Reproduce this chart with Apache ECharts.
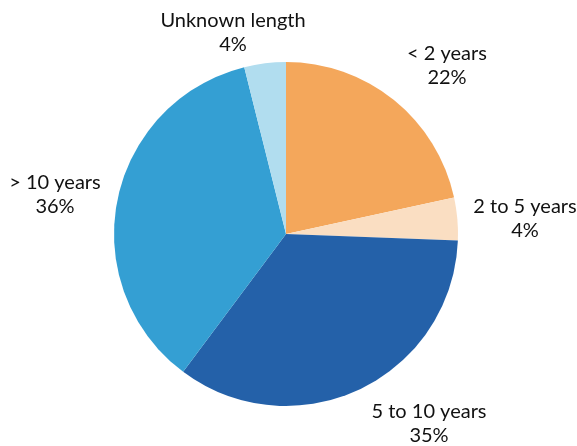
<!DOCTYPE html>
<html>
<head>
<meta charset="utf-8">
<script src="https://cdn.jsdelivr.net/npm/echarts@6/dist/echarts.min.js"></script>
<style>
html,body{margin:0;padding:0;background:#fff;}
#chart{width:577px;height:446px;}
</style>
</head>
<body>
<div id="chart"></div>
<script>
// Data
const categories = ["< 2 years", "2 to 5 years", "5 to 10 years", "> 10 years", "Unknown length"];
const shares = [21.6, 4.0, 34.6, 35.9, 3.9];
const shownPercents = [22, 4, 35, 36, 4];

// Styles
const colors = ["#F4A75B", "#FADEC2", "#2461A9", "#349FD3", "#B1DDEF"];
const pieCenter = [286, 234];
const pieRadius = 172;
// label centre offsets relative to pie centre (layout only)
const labelOffsets = [[161, -168], [239, -15], [143, 190], [-231, -39], [-53, -201]];

const chart = echarts.init(document.getElementById('chart'), null, {renderer: 'canvas'});
chart.setOption({
  animation: false,
  backgroundColor: '#ffffff',
  series: [{
    type: 'pie',
    center: pieCenter,
    radius: [0, pieRadius],
    startAngle: 90,
    clockwise: true,
    minAngle: 0,
    avoidLabelOverlap: false,
    emphasis: {disabled: true},
    itemStyle: {borderWidth: 0},
    label: {
      show: true,
      position: 'outside',
      fontFamily: 'Lato',
      fontSize: 20,
      lineHeight: 24,
      color: '#111111',
      align: 'center',
      formatter: p => p.name + '\n' + shownPercents[p.dataIndex] + '%'
    },
    labelLine: {show: false},
    labelLayout: function (params) {
      const o = labelOffsets[params.dataIndex];
      return {
        x: pieCenter[0] + o[0],
        y: pieCenter[1] + o[1],
        align: 'center',
        verticalAlign: 'middle'
      };
    },
    data: categories.map((c, i) => ({
      name: c,
      value: shares[i],
      itemStyle: {color: colors[i]}
    }))
  }]
});
</script>
</body>
</html>
